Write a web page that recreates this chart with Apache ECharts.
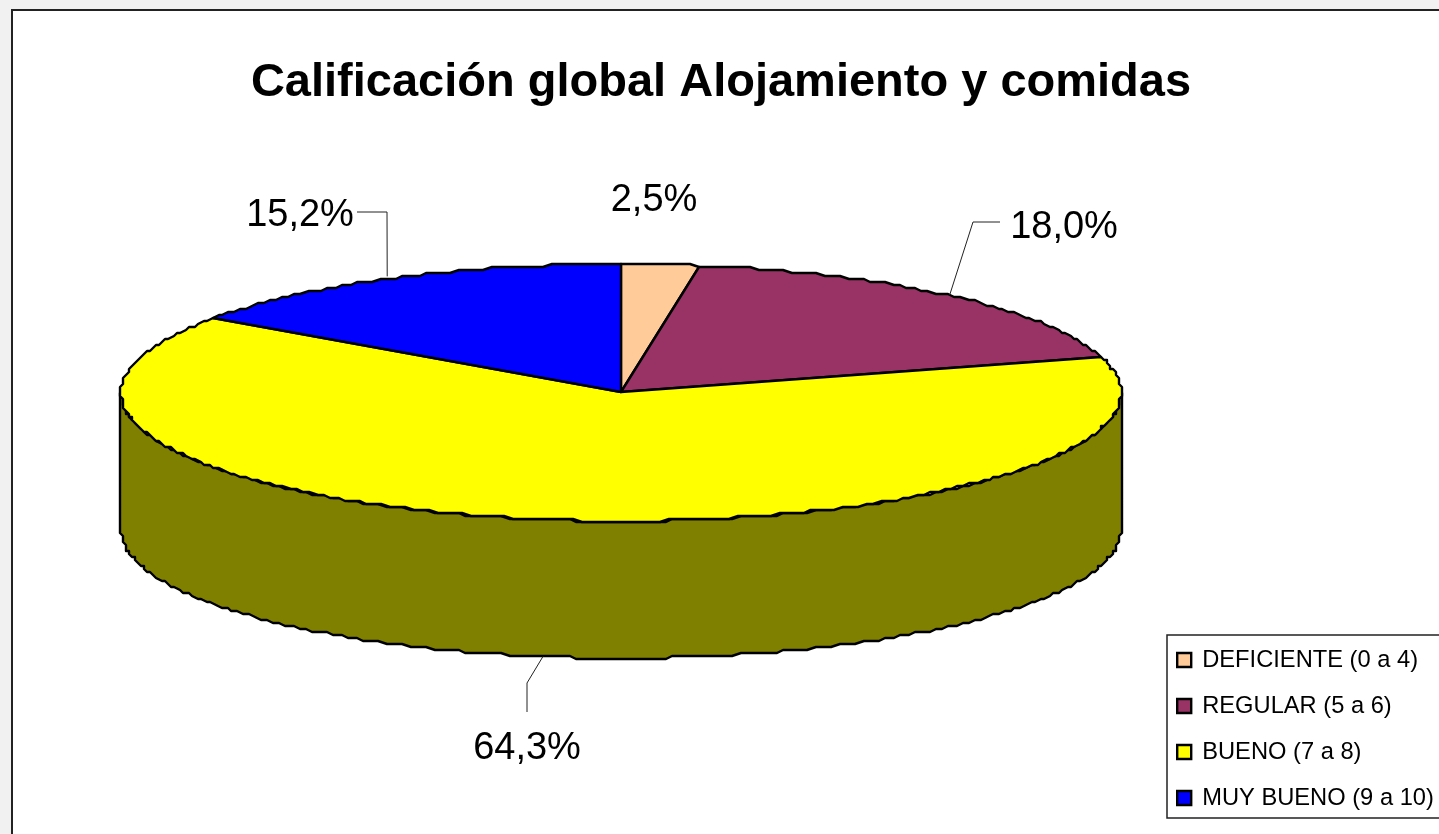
<!DOCTYPE html>
<html><head><meta charset="utf-8">
<style>html,body{margin:0;padding:0;background:#f1f1f1}#c{width:1439px;height:834px}</style>
<script src="https://cdn.jsdelivr.net/npm/echarts@6/dist/echarts.min.js"></script>
</head><body><div id="c"></div>
<script>
const categories = ['DEFICIENTE (0 a 4)', 'REGULAR (5 a 6)', 'BUENO (7 a 8)', 'MUY BUENO (9 a 10)'];
const values = [2.5, 18.0, 64.3, 15.2];
const labels = ['2,5%', '18,0%', '64,3%', '15,2%'];
const colors = ['#FFCC99', '#993366', '#FFFF00', '#0000FF'];
const wallColors = ['#806633', '#4d1a33', '#808000', '#000080'];
const titleText = 'Calificación global Alojamiento y comidas';

// layout of the flattened pie
const CX = 621, CY = 392.5, RX = 500, RY = 128.5, DEPTH = 137, SNAP = 3;
// label centre, leader elbows, and a small nudge of the leader's rim anchor
const labelLayout = [
  { at: [654, 201], leader: null, nudge: [0, 0] },
  { at: [1064, 228], leader: [[973, 222], [1000, 222]], nudge: [-2, -1] },
  { at: [527, 749], leader: [[527, 683], [527, 712]], nudge: [5, 0] },
  { at: [300, 216], leader: [[387, 212], [357, 212]], nudge: [-4, -2] }
];

const total = values.reduce((a, b) => a + b, 0);
const D2R = Math.PI / 180;
function rim(deg, dy) {
  const a = deg * D2R;
  const x = CX + RX * Math.sin(a);
  const y = CY - RY * Math.cos(a);
  return [Math.round(x / SNAP) * SNAP, Math.round(y / SNAP) * SNAP + (dy || 0)];
}
function arc(a0, a1, dy) {
  const n = Math.max(1, Math.ceil(Math.abs(a1 - a0)));
  const pts = [];
  for (let i = 0; i <= n; i++) pts.push(rim(a0 + (a1 - a0) * i / n, dy));
  return pts;
}
function makeRender(idx) {
  return function () {
    const before = values.slice(0, idx).reduce((a, b) => a + b, 0);
    const a0 = before / total * 360, a1 = (before + values[idx]) / total * 360, mid = (a0 + a1) / 2;
    const children = [];
    const w0 = Math.max(a0, 90), w1 = Math.min(a1, 270);
    if (w1 > w0) {
      const pts = arc(w0, w1, 0).concat(arc(w1, w0, DEPTH));
      children.push({ type: 'polygon', shape: { points: pts },
        style: { fill: wallColors[idx], stroke: '#000', lineWidth: 2.4, lineJoin: 'round' } });
    }
    const top = [[CX, CY - 0.5]].concat(arc(a0, a1, 0));
    children.push({ type: 'polygon', shape: { points: top },
      style: { fill: colors[idx], stroke: '#000', lineWidth: 2.4, lineJoin: 'round' } });
    const lay = labelLayout[idx];
    if (lay.leader) {
      const dy = (mid > 90 && mid < 270) ? DEPTH : 0;
      const a = mid * D2R;
      const anchor = [CX + RX * Math.sin(a) + lay.nudge[0], CY - RY * Math.cos(a) + dy + lay.nudge[1]];
      children.push({ type: 'polyline', shape: { points: [anchor].concat(lay.leader) },
        style: { fill: null, stroke: '#222', lineWidth: 1 } });
    }
    children.push({ type: 'text', style: { text: labels[idx], x: lay.at[0], y: lay.at[1],
      align: 'center', verticalAlign: 'middle', fill: '#000',
      font: '38px "Liberation Sans", Arial, sans-serif' } });
    return { type: 'group', children };
  };
}
const chart = echarts.init(document.getElementById('c'), null, { renderer: 'canvas' });
chart.setOption({
  animation: false,
  backgroundColor: '#f1f1f1',
  title: { text: titleText, left: 716, top: 55, textAlign: 'center',
    textStyle: { fontFamily: '"Liberation Sans", Arial, sans-serif', fontWeight: 'bold', fontSize: 47, color: '#000' } },
  legend: {
    orient: 'vertical', left: 1167, top: 635, padding: [12, 12, 7, 9],
    data: categories, selectedMode: false,
    backgroundColor: '#fff', borderColor: '#222', borderWidth: 1.5,
    icon: 'rect', itemWidth: 14, itemHeight: 14, itemGap: 20,
    itemStyle: { borderColor: '#000', borderWidth: 2.4 },
    textStyle: { fontFamily: '"Liberation Sans", Arial, sans-serif', fontSize: 23.7, color: '#000', lineHeight: 26, padding: [0, 0, 0, 6] }
  },
  graphic: [{ type: 'rect', z: -10, shape: { x: 12, y: 10, width: 1500, height: 900 },
    style: { fill: '#fff', stroke: '#222', lineWidth: 2 } }],
  series: categories.map((name, i) => ({
    type: 'custom', name, coordinateSystem: 'none',
    data: [[values[i]]],
    itemStyle: { color: colors[i] },
    renderItem: makeRender(i), silent: true, clip: false
  }))
});
</script></body></html>
